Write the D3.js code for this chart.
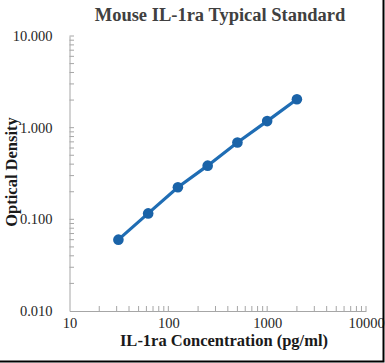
<!DOCTYPE html>
<html>
<head>
<meta charset="utf-8">
<script src="https://cdn.jsdelivr.net/npm/d3@7"></script>
<style>
  body { margin: 0; background: #fff; }
  text { font-family: "Liberation Serif", "Times New Roman", serif; }
</style>
</head>
<body>
<div id="chart"></div>
<script>
const concentrations = [31.25, 62.5, 125, 250, 500, 1000, 2000];
const odValues = [0.060, 0.116, 0.224, 0.385, 0.690, 1.180, 2.040];
const xTickValues = [10, 100, 1000, 10000];
const yTickValues = [0.01, 0.1, 1, 10];

const width = 385, height = 363;

const svg = d3.select('#chart')
  .append('svg')
  .attr('width', width)
  .attr('height', height);

const x = d3.scaleLog()
  .domain([10, 10000])
  .range([69.5, 366]);

const y = d3.scaleLog()
  .domain([0.01, 10])
  .range([311, 36]);

// minor ticks (2..9 in each decade), pointing inward
const xMinor = [];
const yMinor = [];
for (let d = 10; d < 10000; d *= 10) {
  for (let k = 2; k <= 10; k++) xMinor.push(d * k);
}
for (let d = 0.01; d < 9; d *= 10) {
  for (let k = 2; k <= 10; k++) yMinor.push(d * k);
}

svg.append('g')
  .selectAll('line')
  .data(xMinor)
  .join('line')
  .attr('x1', d => x(d)).attr('x2', d => x(d))
  .attr('y1', 311).attr('y2', 306)
  .attr('stroke', '#a6a6a6');

svg.append('g')
  .selectAll('line')
  .data(yMinor)
  .join('line')
  .attr('x1', 69.5).attr('x2', 74)
  .attr('y1', d => y(d)).attr('y2', d => y(d))
  .attr('stroke', '#a6a6a6');

function xAxis(g) {
  g.attr('transform', 'translate(0,311)')
    .call(d3.axisBottom(x).tickValues(xTickValues).tickSize(0).tickPadding(7).tickFormat(d3.format('d')))
    .call(g => g.select('.domain').attr('stroke', '#a6a6a6'))
    .attr('font-size', '14.5px')
    .attr('font-family', '"Liberation Serif", serif')
    .selectAll('text').attr('fill', '#262626');
}

function yAxis(g) {
  g.attr('transform', 'translate(69.5,0)')
    .call(d3.axisLeft(y).tickValues(yTickValues).tickSize(0).tickPadding(17).tickFormat(d3.format('.3f')))
    .call(g => g.select('.domain').attr('stroke', '#a6a6a6'))
    .attr('font-size', '14.5px')
    .attr('font-family', '"Liberation Serif", serif')
    .selectAll('text').attr('fill', '#262626');
}

svg.append('g').call(xAxis);
svg.append('g').call(yAxis);

const pts = concentrations.map((c, i) => [c, odValues[i]]);

svg.append('path')
  .datum(pts)
  .attr('fill', 'none')
  .attr('stroke', '#1f6db4')
  .attr('stroke-width', 3.2)
  .attr('d', d3.line().x(d => x(d[0])).y(d => y(d[1])));

svg.append('g')
  .selectAll('circle')
  .data(pts)
  .join('circle')
  .attr('cx', d => x(d[0]))
  .attr('cy', d => y(d[1]))
  .attr('r', 5.3)
  .attr('fill', '#1a63a8');

svg.append('text')
  .attr('x', 220).attr('y', 21)
  .attr('text-anchor', 'middle')
  .attr('font-size', '18.5px')
  .attr('font-weight', 'bold')
  .attr('fill', '#404040')
  .text('Mouse IL-1ra Typical Standard');

svg.append('text')
  .attr('x', 224).attr('y', 346)
  .attr('text-anchor', 'middle')
  .attr('font-size', '16.5px')
  .attr('font-weight', 'bold')
  .attr('fill', '#1a1a1a')
  .text('IL-1ra Concentration (pg/ml)');

svg.append('text')
  .attr('transform', 'translate(16.5,172) rotate(-90)')
  .attr('text-anchor', 'middle')
  .attr('font-size', '16.5px')
  .attr('font-weight', 'bold')
  .attr('fill', '#1a1a1a')
  .text('Optical Density');

// frame edge on right and bottom
svg.append('path')
  .attr('d', `M${width - 1.5},0V${height - 1.5}H0`)
  .attr('fill', 'none')
  .attr('stroke', '#000')
  .attr('stroke-width', 2);
</script>
</body>
</html>
